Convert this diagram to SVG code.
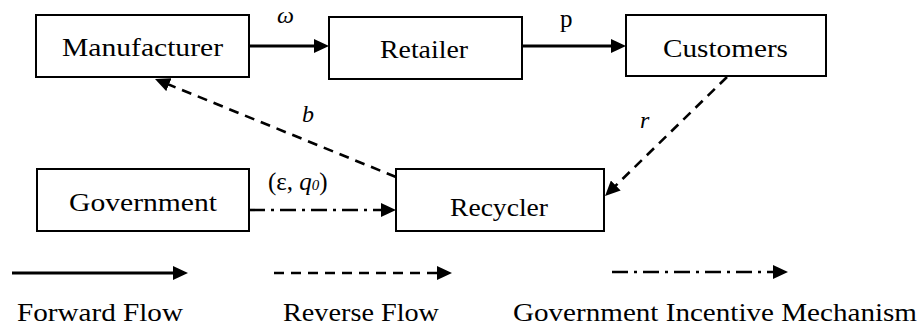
<svg xmlns="http://www.w3.org/2000/svg" width="919" height="327" viewBox="0 0 919 327">
  <style>
    .box { fill: #ffffff; stroke: #000000; stroke-width: 2; }
    .lbl { font-family: "Liberation Serif", "Times New Roman", serif; font-size: 25px; fill: #000000; }
    .var { font-family: "Liberation Serif", "Times New Roman", serif; font-size: 24px; font-style: italic; fill: #000000; }
    .fwd { stroke: #000000; stroke-width: 3; fill: none; marker-end: url(#head); }
    .rev { stroke: #000000; stroke-width: 2.6; fill: none; stroke-dasharray: 10 7; marker-end: url(#head); }
    .gov { stroke: #000000; stroke-width: 2.6; fill: none; stroke-dasharray: 16 6 3 6; marker-end: url(#head); }
  </style>
  <defs>
    <marker id="head" markerUnits="userSpaceOnUse" viewBox="0 0 15 14" refX="11" refY="7" markerWidth="15" markerHeight="14" orient="auto">
      <path d="M0,0 L15,7 L0,14 Z" fill="#000000"/>
    </marker>
  </defs>

  <rect width="919" height="327" fill="#ffffff"/>

  <!-- connectors -->
  <g id="connectors">
    <line class="fwd" x1="249" y1="46" x2="325" y2="46"/>
    <line class="fwd" x1="522" y1="46" x2="622" y2="46"/>
    <line class="rev" x1="396" y1="177" x2="158.7" y2="80.5"/>
    <line class="rev" x1="727" y1="77" x2="607.9" y2="193.2"/>
    <line class="gov" x1="249" y1="210" x2="392" y2="210"/>
    <text class="var" x="277" y="23">ω</text>
    <text class="lbl" x="560" y="27" font-size="26">p</text>
    <text class="var" x="302" y="122">b</text>
    <text class="var" x="640" y="128">r</text>
    <text class="lbl" x="268" y="190" font-size="24">(ε, <tspan font-style="italic">q</tspan><tspan font-style="italic" font-size="15">0</tspan>)</text>
  </g>

  <!-- nodes -->
  <g id="manufacturer">
    <rect class="box" x="36" y="15" width="213" height="62"/>
    <text class="lbl" x="62" y="56" textLength="161" lengthAdjust="spacingAndGlyphs">Manufacturer</text>
  </g>
  <g id="retailer">
    <rect class="box" x="329" y="17" width="193" height="62"/>
    <text class="lbl" x="380" y="58" textLength="88" lengthAdjust="spacingAndGlyphs">Retailer</text>
  </g>
  <g id="customers">
    <rect class="box" x="626" y="15" width="200" height="61"/>
    <text class="lbl" x="663" y="57" textLength="125" lengthAdjust="spacingAndGlyphs">Customers</text>
  </g>
  <g id="government">
    <rect class="box" x="37" y="169" width="212" height="62"/>
    <text class="lbl" x="69" y="211" textLength="148" lengthAdjust="spacingAndGlyphs">Government</text>
  </g>
  <g id="recycler">
    <rect class="box" x="396" y="169" width="208" height="62"/>
    <text class="lbl" x="450" y="216" textLength="98" lengthAdjust="spacingAndGlyphs">Recycler</text>
  </g>

  <!-- legend -->
  <g id="legend">
    <line class="fwd" x1="12" y1="273" x2="184" y2="273"/>
    <line class="rev" x1="274" y1="273" x2="448" y2="273"/>
    <line class="gov" x1="612" y1="272" x2="784" y2="272"/>
    <text class="lbl" x="17" y="321" textLength="166" lengthAdjust="spacingAndGlyphs">Forward Flow</text>
    <text class="lbl" x="283" y="321" textLength="156" lengthAdjust="spacingAndGlyphs">Reverse Flow</text>
    <text class="lbl" x="513" y="321" textLength="404" lengthAdjust="spacingAndGlyphs">Government Incentive Mechanism</text>
  </g>
</svg>
